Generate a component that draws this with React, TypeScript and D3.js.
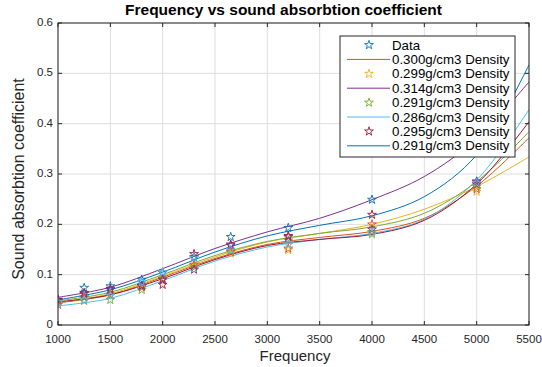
import React from "react";
import * as d3 from "d3";

const xTicks = [1000, 1500, 2000, 2500, 3000, 3500, 4000, 4500, 5000, 5500];
const yTicks = [0, 0.1, 0.2, 0.3, 0.4, 0.5, 0.6];

const freqs = [1000, 1250, 1500, 1800, 2000, 2300, 2650, 3200, 4000, 5000];
const fitFreqs = [1000, 1500, 2000, 2500, 3000, 3500, 4000, 4500, 5000, 5500];

const data1 = [0.05, 0.074, 0.077, 0.09, 0.104, 0.135, 0.175, 0.193, 0.249, 0.285];
const data2 = [0.045, 0.055, 0.06, 0.075, 0.092, 0.118, 0.142, 0.149, 0.18, 0.265];
const data3 = [0.045, 0.048, 0.05, 0.07, 0.09, 0.115, 0.148, 0.168, 0.185, 0.275];
const data4 = [0.05, 0.064, 0.072, 0.078, 0.08, 0.141, 0.16, 0.177, 0.219, 0.28];
const data5 = [0.04, 0.055, 0.06, 0.075, 0.092, 0.12, 0.145, 0.152, 0.2, 0.27];
const data6 = [0.048, 0.062, 0.07, 0.078, 0.09, 0.11, 0.158, 0.175, 0.19, 0.285];
const data7 = [0.046, 0.05, 0.058, 0.085, 0.105, 0.133, 0.15, 0.16, 0.182, 0.282];

const fit1 = [0.044, 0.06, 0.095, 0.132, 0.16, 0.174, 0.186, 0.212, 0.276, 0.372];
const fit2 = [0.055, 0.075, 0.112, 0.152, 0.185, 0.212, 0.249, 0.295, 0.37, 0.483];
const fit3 = [0.038, 0.053, 0.088, 0.127, 0.155, 0.17, 0.182, 0.21, 0.288, 0.428];
const fit4 = [0.05, 0.07, 0.105, 0.145, 0.177, 0.198, 0.217, 0.255, 0.338, 0.517];
const fit5 = [0.045, 0.062, 0.097, 0.135, 0.165, 0.182, 0.2, 0.23, 0.275, 0.334];
const fit6 = [0.048, 0.065, 0.1, 0.138, 0.166, 0.182, 0.195, 0.222, 0.285, 0.384];
const fit7 = [0.046, 0.06, 0.092, 0.13, 0.158, 0.17, 0.18, 0.208, 0.28, 0.404];

const dataSeries = [data1, data2, data3, data4, data5, data6, data7];
const dataColors = ["#0072BD", "#EDB120", "#77AC30", "#A2142F", "#D95319", "#7E2F8E", "#4DBEEE"];
const fitSeries = [fit1, fit2, fit3, fit4, fit5, fit6, fit7];
const fitColors = ["#D95319", "#7E2F8E", "#4DBEEE", "#0072BD", "#EDB120", "#77AC30", "#A2142F"];

const legendLabels = [
  "Data",
  "0.300g/cm3 Density",
  "0.299g/cm3 Density",
  "0.314g/cm3 Density",
  "0.291g/cm3 Density",
  "0.286g/cm3 Density",
  "0.295g/cm3 Density",
  "0.291g/cm3 Density",
];
const legendKinds = ["star", "line", "star", "line", "star", "line", "star", "line"];
const legendColors = ["#0072BD", "#D95319", "#EDB120", "#7E2F8E", "#77AC30", "#4DBEEE", "#A2142F", "#0072BD"];

const W = 542;
const H = 367;
const L = 58, R = 529, T = 23, B = 325;
const font = "'Liberation Sans', Arial, Helvetica, sans-serif";

export default function App() {
  const x = d3.scaleLinear().domain([1000, 5500]).range([L, R]);
  const y = d3.scaleLinear().domain([0, 0.6]).range([B, T]);
  const line = d3
    .line<number>()
    .x((_, i) => x(fitFreqs[i]))
    .y((d) => y(d))
    .curve(d3.curveCatmullRom.alpha(0.5));
  const star = d3.symbol().type(d3.symbolStar).size(24)() as string;

  const legX = 340, legY = 36, legW = 175, legH = 121;
  const rowH = 14.4;

  return (
    <svg
      width={W}
      height={H}
      style={{ position: "absolute", left: 0, top: 0, background: "#fff" }}
      fontFamily={font}
    >
      <defs>
        <clipPath id="plotclip">
          <rect x={L} y={T} width={R - L} height={B - T} />
        </clipPath>
      </defs>
      <rect x={0} y={0} width={W} height={H} fill="#fff" />
      {xTicks.map((t) => (
        <line key={"gx" + t} x1={x(t)} x2={x(t)} y1={T} y2={B} stroke="#dedede" strokeWidth={1} />
      ))}
      {yTicks.map((t) => (
        <line key={"gy" + t} x1={L} x2={R} y1={y(t)} y2={y(t)} stroke="#dedede" strokeWidth={1} />
      ))}
      <g clipPath="url(#plotclip)">
        {fitSeries.map((s, i) => (
          <path key={"f" + i} d={line(s) as string} fill="none" stroke={fitColors[i]} strokeWidth={1} />
        ))}
        {dataSeries.map((s, i) =>
          s.map((v, j) => (
            <path
              key={"d" + i + "-" + j}
              d={star}
              transform={`translate(${x(freqs[j])},${y(v)})`}
              fill="none"
              stroke={dataColors[i]}
              strokeWidth={0.9}
            />
          ))
        )}
      </g>
      <rect x={L} y={T} width={R - L} height={B - T} fill="none" stroke="#262626" strokeWidth={1} />
      {xTicks.map((t) => (
        <g key={"tx" + t}>
          <line x1={x(t)} x2={x(t)} y1={B} y2={B - 4} stroke="#262626" />
          <line x1={x(t)} x2={x(t)} y1={T} y2={T + 4} stroke="#262626" />
          <text x={x(t)} y={B + 18} textAnchor="middle" fontSize={11.5} fill="#262626">
            {t}
          </text>
        </g>
      ))}
      {yTicks.map((t) => (
        <g key={"ty" + t}>
          <line x1={L} x2={L + 4} y1={y(t)} y2={y(t)} stroke="#262626" />
          <line x1={R} x2={R - 4} y1={y(t)} y2={y(t)} stroke="#262626" />
          <text x={L - 5} y={y(t) + 3} textAnchor="end" fontSize={11.5} fill="#262626">
            {t}
          </text>
        </g>
      ))}
      <text x={(L + R) / 2 - 10} y={15} textAnchor="middle" fontSize={15.5} fontWeight="bold" fill="#000">
        Frequency vs sound absorbtion coefficient
      </text>
      <text x={295} y={361} textAnchor="middle" fontSize={15} fill="#262626">
        Frequency
      </text>
      <text
        transform={`translate(24,${(T + B) / 2 + 5}) rotate(-90)`}
        textAnchor="middle"
        fontSize={16}
        fill="#262626"
      >
        Sound absorbtion coefficient
      </text>
      <rect x={legX} y={legY} width={legW} height={legH} fill="#fff" stroke="#262626" strokeWidth={1} />
      {legendLabels.map((lab, i) => {
        const cy = legY + 9 + i * rowH;
        return (
          <g key={"l" + i}>
            {legendKinds[i] === "line" ? (
              <line x1={347} x2={390} y1={cy} y2={cy} stroke={legendColors[i]} strokeWidth={1} />
            ) : (
              <path d={star} transform={`translate(369,${cy})`} fill="none" stroke={legendColors[i]} strokeWidth={0.9} />
            )}
            <text x={392} y={cy + 4.5} fontSize={13.3} fill="#000">
              {lab}
            </text>
          </g>
        );
      })}
    </svg>
  );
}
